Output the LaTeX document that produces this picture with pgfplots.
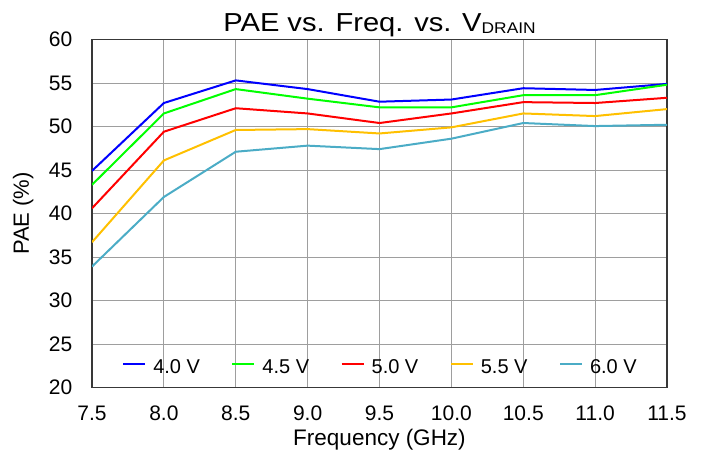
\documentclass[border=0pt]{standalone}
\usepackage{fontspec}
\setmainfont{Liberation Sans}
\usepackage{pgfplots}
\pgfplotsset{compat=1.18}
\definecolor{cblue}{RGB}{0,0,255}
\definecolor{cgreen}{RGB}{0,255,0}
\definecolor{cred}{RGB}{255,0,0}
\definecolor{cyel}{RGB}{255,192,0}
\definecolor{ccyan}{RGB}{75,172,198}
\begin{document}
\begin{tikzpicture}
\useasboundingbox (-92pt,-63.5pt) rectangle (611pt,387.5pt);
\begin{axis}[
  at={(0,0)}, anchor=south west,
  scale only axis, width=575pt, height=348pt,
  xmin=7.5, xmax=11.5, ymin=20, ymax=60,
  xtick={7.5,8,...,11.5}, ytick={20,25,...,60},
  /pgf/number format/assume math mode=true,
  ticklabel style={font=\fontsize{21}{21}\selectfont, inner sep=0pt},
  xticklabel style={/pgf/number format/fixed, /pgf/number format/fixed zerofill, /pgf/number format/precision=1, anchor=base, yshift=-32.5pt},
  yticklabel style={anchor=east, xshift=-19.5pt},
  major tick length=0pt,
  grid=major,
  grid style={draw=black!38, line width=0.9pt},
  axis line style={draw=black!78, line width=1.6pt},
  xlabel={Frequency (GHz)},
  ylabel={PAE (\%)},
  xlabel style={font=\fontsize{22.5}{22.5}\selectfont, at={(axis description cs:0.5,0)}, anchor=base, yshift=-57.5pt, inner sep=0pt},
  ylabel style={font=\fontsize{22}{22}\selectfont, at={(axis description cs:0,0.5)}, anchor=base, yshift=63pt, inner sep=0pt},
  title={\scalebox{1.12}[1]{PAE vs. Freq. vs. V\raisebox{-0.12ex}{\fontsize{15.5}{15.5}\selectfont DRAIN}}},
  title style={font=\fontsize{26}{26}\selectfont, at={(axis description cs:0.5,1)}, anchor=base, yshift=2pt, inner sep=0pt},
  legend style={at={(axis description cs:0.5,0)}, anchor=south, yshift=12pt, draw=none, fill=none, inner sep=0pt,
    legend columns=5, font=\fontsize{20}{20}\selectfont,
    nodes={inner sep=0pt},
    /tikz/every odd column/.append style={column sep=7pt},
    /tikz/every even column/.append style={column sep=31.5pt}},
  legend image code/.code={\draw[#1, line width=2pt] (0pt,3.5pt) -- (22pt,3.5pt);},
  every axis plot/.append style={line width=2pt},
]
\addplot[cblue] coordinates {(7.5,44.9) (8.0,52.7) (8.5,55.3) (9.0,54.3) (9.5,52.85) (10.0,53.1) (10.5,54.4) (11.0,54.2) (11.5,54.9)};
\addlegendentry{4.0 V}
\addplot[cgreen] coordinates {(7.5,43.3) (8.0,51.5) (8.5,54.3) (9.0,53.2) (9.5,52.2) (10.0,52.2) (10.5,53.6) (11.0,53.6) (11.5,54.8)};
\addlegendentry{4.5 V}
\addplot[cred] coordinates {(7.5,40.6) (8.0,49.4) (8.5,52.1) (9.0,51.5) (9.5,50.4) (10.0,51.5) (10.5,52.8) (11.0,52.7) (11.5,53.3)};
\addlegendentry{5.0 V}
\addplot[cyel] coordinates {(7.5,36.7) (8.0,46.1) (8.5,49.6) (9.0,49.7) (9.5,49.2) (10.0,49.9) (10.5,51.5) (11.0,51.2) (11.5,52.0)};
\addlegendentry{5.5 V}
\addplot[ccyan] coordinates {(7.5,33.9) (8.0,41.9) (8.5,47.1) (9.0,47.8) (9.5,47.4) (10.0,48.6) (10.5,50.4) (11.0,50.05) (11.5,50.2)};
\addlegendentry{6.0 V}
\end{axis}
\end{tikzpicture}
\end{document}
